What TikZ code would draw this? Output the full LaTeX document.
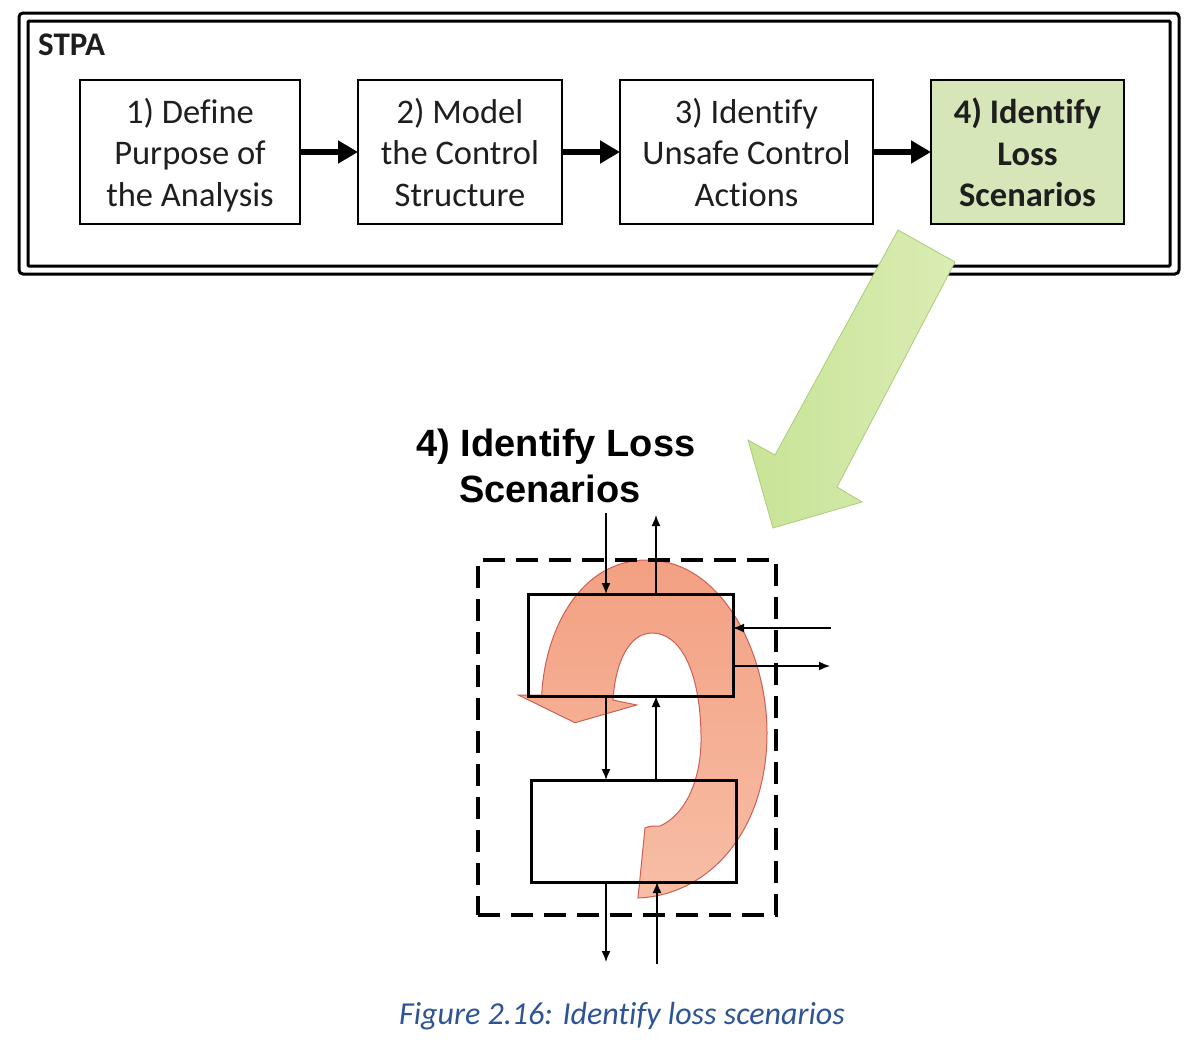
\documentclass[tikz,border=0pt]{standalone}
\usepackage{fontspec}
\setmainfont{Carlito}[Ligatures={NoCommon}]
\newfontfamily\arialfont{Liberation Sans}
\usetikzlibrary{arrows.meta}
\definecolor{txt}{RGB}{30,30,30}
\definecolor{boxgreen}{RGB}{215,230,185}
\definecolor{arrgreenA}{RGB}{200,228,150}
\definecolor{arrgreenB}{RGB}{218,236,180}
\definecolor{arrgreenD}{RGB}{170,205,120}
\definecolor{redA}{RGB}{243,160,130}
\definecolor{redB}{RGB}{247,190,166}
\definecolor{redD}{RGB}{205,95,85}
\definecolor{capblue}{RGB}{46,84,150}
\newcommand{\steptext}[2]{\parbox{#1}{\centering\vspace*{13pt}#2\strut}}
\begin{document}
\begin{tikzpicture}[x=1pt,y=-1pt,
  stepbox/.style={draw=black,line width=2.5pt,minimum height=144pt,inner sep=0pt,outer sep=0pt,
    align=center,text=txt,font=\fontsize{34.5}{41.5}\selectfont},
  thickarrow/.style={line width=6pt,-{Triangle[length=20pt,width=22pt]}},
  smallbox/.style={draw=black,line width=3pt,minimum width=205pt,minimum height=102pt,inner sep=0pt,outer sep=0pt},
  thinarrow/.style={line width=1.5pt,-{Latex[length=11pt,width=9pt]}},
  frame/.style={line width=3pt,rounded corners=4pt}
]
\useasboundingbox (0,0) rectangle (1198,1044);

% STPA frame
\draw[frame] (19,13) rectangle (1179,274);
\draw[frame,rounded corners=1pt] (28,21) rectangle (1170,266);
\node[anchor=north west,inner sep=0pt,font=\fontsize{33}{40}\selectfont\bfseries,text=txt] (stpa) at (38,34) {STPA};

% step boxes
\node[stepbox,minimum width=220pt] (s1) at (190,152) {\steptext{220pt}{1) Define\\Purpose of\\the Analysis}};
\node[stepbox,minimum width=204pt] (s2) at (460,152) {\steptext{204pt}{2) Model\\the Control\\Structure}};
\node[stepbox,minimum width=253pt] (s3) at (746.5,152) {\steptext{253pt}{3) Identify\\Unsafe Control\\Actions}};
\node[stepbox,minimum width=193pt,fill=boxgreen,font=\fontsize{34.5}{41.5}\selectfont\bfseries] (s4) at (1027.5,152) {\steptext{193pt}{4) Identify\\Loss\\Scenarios}};
\draw[thickarrow] (s1) -- (s2);
\draw[thickarrow] (s2) -- (s3);
\draw[thickarrow] (s3) -- (s4);

% big green arrow
\draw[draw=arrgreenD,line width=0.8pt,left color=arrgreenA,right color=arrgreenB]
  (898,230) -- (955,262) -- (837,487) -- (862,502) -- (773,528) -- (748,440) -- (775,455) -- cycle;

% title of lower part
\node[align=center,inner sep=0pt,font=\arialfont\fontsize{38}{46}\selectfont\bfseries,text=black] (title) at (556,466) {4) Identify Loss\\\makebox[194pt][l]{Scenarios}};

% red curved arrow
\draw[draw=redD,line width=1pt,top color=redA,bottom color=redB]
  (541.7,695) .. controls (545,630) and (580,560) .. (647,560)
  .. controls (720,560) and (767,650) .. (767,733)
  .. controls (767,830) and (710,895) .. (638,898)
  -- (645,828) .. controls (650,826) .. (660,826)
  .. controls (685,815) and (702,780) .. (701,735)
  .. controls (700,670) and (680,633) .. (652,633)
  .. controls (628,633) and (615,665) .. (613,700)
  -- (636.7,705) -- (575,722.7) -- (518.3,695) -- cycle;

% dashed system boundary
\node[draw=black,line width=3.5pt,dash pattern=on 22pt off 11pt,minimum width=298pt,minimum height=355pt,inner sep=0pt] (bound) at (627,737.5) {};

% controller and controlled process boxes
\node[smallbox] (ub) at (630.5,645) {};
\node[smallbox] (lb) at (633.5,831) {};

\coordinate (inA) at (606,513);
\coordinate (outA) at (656,515);
\coordinate (inB) at (831,628);
\coordinate (outB) at (830,666);
\coordinate (outC) at (606,962);
\coordinate (inC) at (657,964);

\draw[thinarrow] (inA) -- (inA |- ub.north);
\draw[thinarrow] (ub.north -| outA) -- (outA);
\draw[thinarrow] (inB) -- (inB -| ub.east);
\draw[thinarrow] (outB -| ub.east) -- (outB);
\draw[thinarrow] (ub.south -| inA) -- (lb.north -| inA);
\draw[thinarrow] (lb.north -| outA) -- (ub.south -| outA);
\draw[thinarrow] (lb.south -| outC) -- (outC);
\draw[thinarrow] (inC) -- (inC |- lb.south);

% caption
\node[inner sep=0pt,font=\fontsize{32}{38}\selectfont\itshape,text=capblue] (cap) at (622,1016) {Figure 2.16: Identify loss scenarios};
\end{tikzpicture}
\end{document}
